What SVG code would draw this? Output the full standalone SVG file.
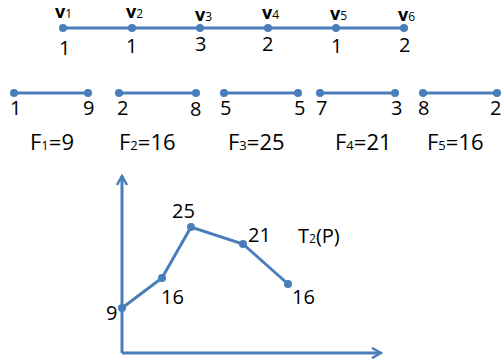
<svg xmlns="http://www.w3.org/2000/svg" width="503" height="364" viewBox="0 0 503 364">
<style>
.ln{stroke:#4A7EBB;stroke-width:3;fill:none}
.dt{fill:#4A7EBB}
text{font-family:"Open Sans","Liberation Sans",sans-serif;fill:#000}
.v{font-size:18px;font-weight:bold}
.n{font-size:20px}
.f{font-size:22px}
.s{font-size:12px}
.fs{font-size:13px}
</style>
<defs>
<marker id="arr" viewBox="0 0 12 12" refX="10" refY="6" markerWidth="12" markerHeight="12" markerUnits="userSpaceOnUse" orient="auto">
<path d="M1,1 L10,6 L1,11" fill="none" stroke="#4A7EBB" stroke-width="2.5"/>
</marker>
</defs>
<g id="connectors">
<line class="ln" x1="63" y1="28" x2="404" y2="28"/>
<line class="ln" x1="14" y1="93" x2="88" y2="93"/>
<line class="ln" x1="119" y1="93" x2="196" y2="93"/>
<line class="ln" x1="224" y1="93" x2="298" y2="93"/>
<line class="ln" x1="320" y1="93" x2="395" y2="93"/>
<line class="ln" x1="423" y1="93" x2="497" y2="93"/>
<line class="ln" x1="122" y1="353" x2="122" y2="176" marker-end="url(#arr)"/>
<line class="ln" x1="122" y1="353" x2="381" y2="353" marker-end="url(#arr)"/>
<polyline class="ln" points="122,308 162,278 191,227 243,244 288,284"/>
</g>
<g id="top">
<circle class="dt" cx="63" cy="28" r="4"/><circle class="dt" cx="132" cy="28" r="4"/><circle class="dt" cx="200" cy="28" r="4"/><circle class="dt" cx="268" cy="28" r="4"/><circle class="dt" cx="336" cy="28" r="4"/><circle class="dt" cx="404" cy="28" r="4"/>
<text class="v" x="55" y="18">v<tspan class="s" font-weight="normal">1</tspan></text>
<text class="v" x="126" y="18">v<tspan class="s" font-weight="normal">2</tspan></text>
<text class="v" x="195" y="21">v<tspan class="s" font-weight="normal">3</tspan></text>
<text class="v" x="262" y="19">v<tspan class="s" font-weight="normal">4</tspan></text>
<text class="v" x="330" y="20">v<tspan class="s" font-weight="normal">5</tspan></text>
<text class="v" x="398" y="21">v<tspan class="s" font-weight="normal">6</tspan></text>
<text class="n" x="59" y="55">1</text>
<text class="n" x="126" y="53">1</text>
<text class="n" x="195" y="51">3</text>
<text class="n" x="262" y="51">2</text>
<text class="n" x="331" y="53">1</text>
<text class="n" x="399" y="52">2</text>
</g>
<g id="segments">
<circle class="dt" cx="14" cy="93" r="4"/><circle class="dt" cx="88" cy="93" r="4"/>
<circle class="dt" cx="119" cy="93" r="4"/><circle class="dt" cx="196" cy="93" r="4"/>
<circle class="dt" cx="224" cy="93" r="4"/><circle class="dt" cx="298" cy="93" r="4"/>
<circle class="dt" cx="320" cy="93" r="4"/><circle class="dt" cx="395" cy="93" r="4"/>
<circle class="dt" cx="423" cy="93" r="4"/><circle class="dt" cx="497" cy="93" r="4"/>
<text class="n" x="10" y="115">1</text><text class="n" x="83" y="115">9</text>
<text class="n" x="117" y="115">2</text><text class="n" x="190" y="116">8</text>
<text class="n" x="220" y="115">5</text><text class="n" x="294" y="115">5</text>
<text class="n" x="316" y="115">7</text><text class="n" x="391" y="115">3</text>
<text class="n" x="418" y="115">8</text><text class="n" x="490" y="115">2</text>
</g>
<g id="flabels">
<text class="f" x="30" y="150">F<tspan class="fs">1</tspan>=9</text>
<text class="f" x="119" y="150">F<tspan class="fs">2</tspan>=16</text>
<text class="f" x="228" y="150">F<tspan class="fs">3</tspan>=25</text>
<text class="f" x="335" y="150">F<tspan class="fs">4</tspan>=21</text>
<text class="f" x="427" y="150">F<tspan class="fs">5</tspan>=16</text>
</g>
<g id="chart">
<circle class="dt" cx="122" cy="308" r="4"/><circle class="dt" cx="162" cy="278" r="4"/><circle class="dt" cx="191" cy="227" r="4"/><circle class="dt" cx="243" cy="244" r="4"/><circle class="dt" cx="288" cy="284" r="4"/>
<text class="n" x="106" y="320">9</text>
<text class="n" x="161" y="304">16</text>
<text class="n" x="172" y="218">25</text>
<text class="n" x="248" y="242">21</text>
<text class="n" x="292" y="304">16</text>
<text class="n" x="298" y="243">T<tspan class="s">2</tspan>(P)</text>
</g>
</svg>
